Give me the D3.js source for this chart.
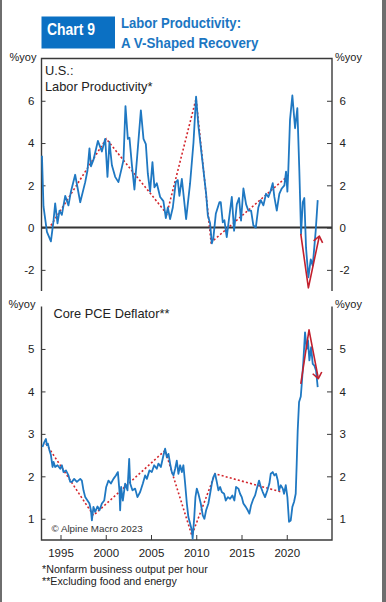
<!DOCTYPE html>
<html><head><meta charset="utf-8">
<script src="https://cdn.jsdelivr.net/npm/d3@7/dist/d3.min.js"></script>
<style>body{margin:0;background:#fff}svg{display:block}text{font-family:"Liberation Sans",Arial,sans-serif}</style>
</head><body>
<script>
// ---------- DATA ----------
const xTickYears = [1995, 2000, 2005, 2010, 2015, 2020];
const prodTicks = [-2, 0, 2, 4, 6];
const pceTicks = [1, 2, 3, 4, 5];

// U.S. labor productivity, %yoy (date as decimal year, value)
const prodSeries = [[1992.95,3.4],[1993.12,1.0],[1993.50,-0.2],[1993.94,-0.65],[1994.23,0.33],[1994.41,1.15],[1994.67,0.2],[1994.89,0.8],[1995.15,0.6],[1995.52,1.5],[1995.88,1.05],[1996.15,1.7],[1996.62,2.5],[1997.18,1.2],[1997.73,2.15],[1997.98,2.7],[1998.20,3.75],[1998.36,2.9],[1998.64,3.2],[1999.13,4.1],[1999.57,3.6],[1999.94,4.2],[2000.19,2.4],[2000.41,4.05],[2000.68,2.95],[2001.04,2.4],[2001.40,2.15],[2001.78,2.85],[2001.96,3.2],[2002.18,5.75],[2002.44,4.2],[2002.62,4.25],[2002.88,3.0],[2003.17,1.8],[2003.44,3.2],[2003.88,5.55],[2004.17,4.2],[2004.43,3.95],[2004.65,2.55],[2004.90,1.7],[2005.16,3.1],[2005.38,1.9],[2005.64,2.1],[2006.01,1.45],[2006.37,1.25],[2006.64,0.45],[2006.86,0.95],[2007.11,0.4],[2007.41,0.95],[2007.74,2.15],[2007.96,2.25],[2008.14,1.5],[2008.41,2.3],[2008.88,0.4],[2009.32,2.1],[2009.69,4.0],[2009.98,6.2],[2010.24,4.8],[2010.72,3.0],[2011.09,1.6],[2011.28,0.57],[2011.53,0.2],[2011.72,-0.75],[2011.89,-0.5],[2012.16,0.65],[2012.56,1.2],[2012.71,1.2],[2012.93,0.25],[2013.11,0.35],[2013.37,-0.45],[2013.63,0.45],[2013.93,1.45],[2014.18,-0.15],[2014.48,1.1],[2014.73,1.4],[2014.95,0.33],[2015.21,1.85],[2015.51,1.1],[2015.76,0.8],[2016.06,0.8],[2016.31,0.1],[2016.58,0.0],[2016.86,0.95],[2017.13,1.3],[2017.42,1.05],[2017.71,1.6],[2017.97,1.45],[2018.23,1.75],[2018.45,2.1],[2018.63,1.45],[2018.90,0.8],[2019.18,1.6],[2019.45,1.85],[2019.74,2.0],[2019.92,2.65],[2020.07,1.7],[2020.18,2.8],[2020.36,5.1],[2020.62,6.25],[2020.92,4.7],[2021.17,5.65],[2021.39,2.7],[2021.58,-0.3],[2021.77,1.2],[2021.94,1.4],[2022.13,-0.95],[2022.39,-2.35],[2022.65,-1.5],[2022.87,-1.8],[2023.20,-0.15],[2023.42,1.3]];
const prodTrend = [[1993.94,0.1],[2000.05,4.2],[2006.75,0.65],[2009.98,6.1],[2011.64,-0.7],[2020.0,2.4]];
const prodArrow = [[2021.55,-0.3],[2022.39,-2.85],[2023.60,-0.4]];

// Core PCE deflator, %yoy
const pceSeries = [[1993.01,2.69],[1993.20,2.8],[1993.39,2.88],[1993.50,2.73],[1993.61,2.77],[1993.79,2.6],[1993.94,2.5],[1994.12,2.22],[1994.23,2.34],[1994.41,2.22],[1994.67,2.26],[1994.97,2.18],[1995.15,2.26],[1995.33,2.1],[1995.60,2.14],[1995.88,2.02],[1996.07,1.87],[1996.26,1.87],[1996.51,1.94],[1996.81,1.87],[1997.18,1.94],[1997.36,1.9],[1997.54,1.67],[1997.73,1.51],[1997.98,1.43],[1998.20,1.36],[1998.36,1.2],[1998.47,0.96],[1998.64,1.28],[1998.83,1.16],[1999.09,1.29],[1999.31,1.2],[1999.57,1.36],[1999.83,1.43],[2000.05,1.75],[2000.30,1.9],[2000.57,1.83],[2000.85,1.94],[2001.12,2.02],[2001.34,2.1],[2001.51,1.67],[2001.59,1.2],[2001.70,1.75],[2001.89,1.43],[2002.14,1.83],[2002.40,1.67],[2002.59,2.41],[2002.70,1.83],[2002.95,1.67],[2003.25,1.71],[2003.50,1.51],[2003.80,1.63],[2004.10,1.83],[2004.35,2.02],[2004.54,1.94],[2004.83,2.14],[2005.09,2.1],[2005.35,2.26],[2005.64,2.18],[2005.82,2.3],[2006.09,2.22],[2006.37,2.49],[2006.56,2.65],[2006.75,2.45],[2006.93,2.53],[2007.11,2.3],[2007.30,2.1],[2007.48,2.02],[2007.67,2.18],[2007.85,2.37],[2008.03,2.06],[2008.22,2.26],[2008.41,2.1],[2008.58,2.26],[2008.77,1.83],[2008.96,1.36],[2009.13,1.04],[2009.32,0.89],[2009.51,0.73],[2009.60,0.53],[2009.78,1.04],[2009.91,1.51],[2010.06,1.71],[2010.24,1.59],[2010.50,1.36],[2010.72,1.08],[2010.90,1.0],[2011.09,1.2],[2011.34,1.36],[2011.53,1.59],[2011.72,1.83],[2011.89,1.98],[2012.08,2.06],[2012.27,1.87],[2012.45,1.67],[2012.64,1.75],[2012.82,1.63],[2013.08,1.59],[2013.26,1.43],[2013.49,1.51],[2013.74,1.47],[2013.99,1.55],[2014.21,1.43],[2014.40,1.75],[2014.66,1.71],[2014.84,1.59],[2015.03,1.51],[2015.21,1.36],[2015.47,1.28],[2015.69,1.2],[2015.87,1.12],[2016.06,1.32],[2016.31,1.47],[2016.50,1.55],[2016.69,1.71],[2016.94,1.9],[2017.13,1.75],[2017.35,1.63],[2017.60,1.51],[2017.86,1.67],[2018.08,1.83],[2018.23,2.06],[2018.45,2.1],[2018.63,2.02],[2018.82,2.06],[2019.01,1.9],[2019.15,1.67],[2019.34,1.79],[2019.56,1.71],[2019.70,1.59],[2019.89,1.79],[2020.07,1.51],[2020.25,0.93],[2020.44,0.96],[2020.62,1.28],[2020.81,1.4],[2020.99,1.59],[2021.10,2.3],[2021.21,3.08],[2021.36,3.75],[2021.55,3.88],[2021.66,4.18],[2021.83,4.69],[2022.02,5.39],[2022.21,5.0],[2022.35,5.2],[2022.50,4.73],[2022.69,5.04],[2022.87,4.65],[2023.05,4.61],[2023.24,4.49],[2023.42,4.1]];
const pceTrend = [[1993.39,2.77],[1998.64,1.08],[2006.56,2.61],[2009.51,0.61],[2012.08,2.06],[2019.45,1.63]];
const pceArrow = [[2021.55,4.18],[2022.46,5.45],[2023.49,4.3]];

// ---------- LAYOUT ----------
const W = 386, H = 602;
const L = 41.5, R = 332;
const topY0 = 58.5, topY1 = 291, botY0 = 306.5, botY1 = 540;
const BLUE = "#1f78c2", RED = "#d3252c", RED2 = "#c2202e", AX = "#3a3a3a", TXT = "#222";

const svg = d3.select("body").append("svg").attr("width", W).attr("height", H);
svg.append("rect").attr("width", W).attr("height", H).attr("fill", "#fff");
svg.append("rect").attr("x", 0).attr("y", 0).attr("width", 2).attr("height", H).attr("fill", "#6e6e6e");
svg.append("rect").attr("x", 382).attr("y", 0).attr("width", 4).attr("height", H).attr("fill", "#6e6e6e");

const x = d3.scaleLinear().domain([1992.9, 2025.0]).range([L, R]);
const yTop = d3.scaleLinear().domain([-3, 8]).range([topY1, topY0]);
const yBot = d3.scaleLinear().domain([0.5, 6]).range([botY1, botY0]);
const fmt = d => String(d);

// Title
svg.append("rect").attr("x", 41.5).attr("y", 16.5).attr("width", 73.5).attr("height", 32).attr("fill", "#0b70c3");
svg.append("text").attr("x", 47).attr("y", 35).attr("fill", "#fff").attr("font-weight", "bold")
  .attr("font-size", 16.5).attr("textLength", 48).attr("lengthAdjust", "spacingAndGlyphs").text("Chart 9");
svg.append("text").attr("x", 121).attr("y", 28.4).attr("fill", "#1b76c2").attr("font-weight", "bold")
  .attr("font-size", 14).attr("textLength", 120).attr("lengthAdjust", "spacingAndGlyphs").text("Labor Productivity:");
svg.append("text").attr("x", 121).attr("y", 47.6).attr("fill", "#1b76c2").attr("font-weight", "bold")
  .attr("font-size", 14).attr("textLength", 137.5).attr("lengthAdjust", "spacingAndGlyphs").text("A V-Shaped Recovery");

function styleAxis(g) {
  g.select(".domain").remove();
  g.selectAll(".tick line").attr("stroke", AX).attr("stroke-width", 1);
  g.selectAll(".tick text").attr("fill", TXT).attr("font-size", 11.5)
    .attr("font-family", '"Liberation Sans",Arial,sans-serif');
}

// frame lines
const frame = svg.append("g").attr("stroke", AX).attr("stroke-width", 1.4).attr("fill", "none");
frame.append("path").attr("d", `M${L},${topY1}V${topY0}H${R}V${topY1}`);
frame.append("path").attr("d", `M${L},${botY0}V${botY1}H${R}V${botY0}`);

// Top panel axes
svg.append("g").attr("transform", `translate(${L},0)`)
  .call(d3.axisLeft(yTop).tickValues(prodTicks).tickSize(-4).tickPadding(7).tickFormat(fmt)).call(styleAxis);
svg.append("g").attr("transform", `translate(${R},0)`)
  .call(d3.axisRight(yTop).tickValues(prodTicks).tickSize(-5).tickPadding(7.5).tickFormat(fmt)).call(styleAxis);
// Bottom panel axes
svg.append("g").attr("transform", `translate(${L},0)`)
  .call(d3.axisLeft(yBot).tickValues(pceTicks).tickSize(-4).tickPadding(7).tickFormat(fmt)).call(styleAxis);
svg.append("g").attr("transform", `translate(${R},0)`)
  .call(d3.axisRight(yBot).tickValues(pceTicks).tickSize(-5).tickPadding(7.5).tickFormat(fmt)).call(styleAxis);
svg.append("g").attr("transform", `translate(0,${botY1})`)
  .call(d3.axisBottom(x).tickValues(xTickYears).tickSize(-5).tickPadding(8.5).tickFormat(fmt)).call(styleAxis);

// unit labels
[[9.5, 61], [335, 61], [8.5, 307.5], [335, 307.5]].forEach(([tx, ty]) =>
  svg.append("text").attr("x", tx).attr("y", ty).attr("font-size", 11).attr("fill", TXT).text("%yoy"));

// panel labels
svg.append("text").attr("x", 45).attr("y", 75.3).attr("font-size", 12.8).attr("fill", TXT).text("U.S.:");
svg.append("text").attr("x", 45).attr("y", 90.7).attr("font-size", 12.8).attr("fill", TXT).text("Labor Productivity*");
svg.append("text").attr("x", 53.5).attr("y", 317.5).attr("font-size", 12.8).attr("fill", TXT).text("Core PCE Deflator**");
svg.append("text").attr("x", 51.5).attr("y", 531.5).attr("font-size", 9.8).attr("fill", "#333").text("\u00A9 Alpine Macro 2023");

// footnotes
svg.append("text").attr("x", 42).attr("y", 572.7).attr("font-size", 10.7).attr("fill", TXT).text("*Nonfarm business output per hour");
svg.append("text").attr("x", 42).attr("y", 585).attr("font-size", 10.7).attr("fill", TXT).text("**Excluding food and energy");

// zero line
svg.append("line").attr("x1", L).attr("x2", R).attr("y1", yTop(0)).attr("y2", yTop(0))
  .attr("stroke", "#333").attr("stroke-width", 2);

function drawPanel(series, trend, arrow, y) {
  const line = d3.line().x(d => x(d[0])).y(d => y(d[1]));
  svg.append("path").datum(trend).attr("d", line).attr("fill", "none")
    .attr("stroke", RED).attr("stroke-width", 1.6).attr("stroke-dasharray", "2,2.2");
  svg.append("path").datum(series).attr("d", line).attr("fill", "none")
    .attr("stroke", BLUE).attr("stroke-width", 1.8).attr("stroke-linejoin", "round");
  svg.append("path").datum(arrow).attr("d", line).attr("fill", "none")
    .attr("stroke", RED2).attr("stroke-width", 1.6).attr("stroke-linejoin", "round");
  // arrow head
  const p = arrow[arrow.length - 2], t = arrow[arrow.length - 1];
  const px = x(p[0]), py = y(p[1]), tx = x(t[0]), ty = y(t[1]);
  const len = Math.hypot(tx - px, ty - py), ux = (px - tx) / len, uy = (py - ty) / len;
  const a = 38 * Math.PI / 180, hl = 7.5;
  const b1 = [tx + hl * (ux * Math.cos(a) - uy * Math.sin(a)), ty + hl * (ux * Math.sin(a) + uy * Math.cos(a))];
  const b2 = [tx + hl * (ux * Math.cos(-a) - uy * Math.sin(-a)), ty + hl * (ux * Math.sin(-a) + uy * Math.cos(-a))];
  svg.append("path").attr("d", `M${b1[0]},${b1[1]}L${tx},${ty}L${b2[0]},${b2[1]}`)
    .attr("fill", "none").attr("stroke", RED2).attr("stroke-width", 1.6).attr("stroke-linejoin", "round");
}
drawPanel(prodSeries, prodTrend, prodArrow, yTop);
drawPanel(pceSeries, pceTrend, pceArrow, yBot);
</script>
</body></html>
